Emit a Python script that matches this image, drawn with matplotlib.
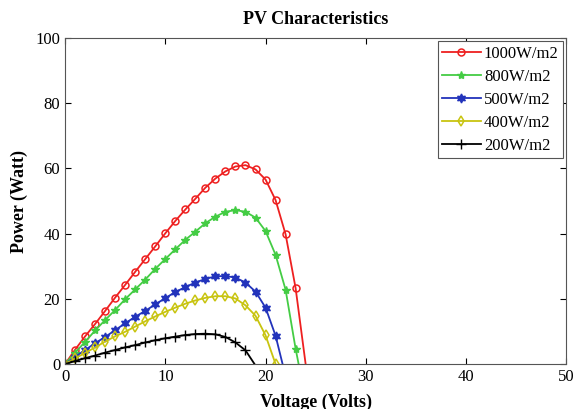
import numpy as np
import matplotlib
matplotlib.use("Agg")
import matplotlib.pyplot as plt

plt.rcParams['font.family'] = ['Liberation Serif', 'DejaVu Serif']

labels = ["1000W/m2", "800W/m2", "500W/m2", "400W/m2", "200W/m2"]

v_1000 = list(range(0, 24)) + [24.0]
p_1000 = [0, 4.4, 8.5, 12.3, 16.3, 20.4, 24.3, 28.3, 32.2, 36.1, 40.1, 43.9, 47.4,
          50.7, 54.1, 56.9, 59.1, 60.6, 61.0, 59.7, 56.6, 50.3, 39.8, 23.3, 0]

v_800 = list(range(0, 24)) + [23.3]
p_800 = [0, 3.5, 6.8, 10.3, 13.5, 16.6, 19.9, 22.9, 25.9, 29.2, 32.2, 35.2, 38.1,
         40.6, 43.2, 45.2, 46.7, 47.2, 46.7, 44.9, 40.8, 33.5, 22.8, 4.7, 0]

v_500 = list(range(0, 22)) + [21.7]
p_500 = [0, 2.2, 4.3, 6.4, 8.3, 10.4, 12.5, 14.5, 16.3, 18.3, 20.2, 22.1, 23.6,
         25.0, 26.1, 26.9, 27.0, 26.5, 25.0, 22.2, 17.3, 8.7, 0]

v_400 = list(range(0, 22))
p_400 = [0, 1.7, 3.4, 5.1, 6.9, 8.5, 9.9, 11.5, 13.1, 14.6, 16.0, 17.3, 18.5,
         19.5, 20.3, 20.8, 20.8, 20.1, 18.0, 14.8, 8.8, 0]

v_200 = list(range(0, 19)) + [18.9]
p_200 = [0, 0.9, 1.8, 2.6, 3.5, 4.3, 5.1, 5.8, 6.6, 7.3, 7.9, 8.4, 8.9,
         9.2, 9.3, 9.1, 8.3, 6.6, 4.2, 0]

fig = plt.figure(figsize=(5.76, 4.09), dpi=100)
ax = fig.add_axes([0.113, 0.110, 0.870, 0.797])

lw = 1.3
# last point of most curves is the open-circuit voltage, no marker there
ax.plot(v_1000, p_1000, color='#ee2020', marker='o', mfc='none', ms=5, mew=1.1, lw=lw,
        markevery=list(range(len(v_1000) - 1)), label=labels[0])
ax.plot(v_800, p_800, color='#44cc44', marker='*', ms=6, lw=lw,
        markevery=list(range(len(v_800) - 1)), label=labels[1])
ax.plot(v_500, p_500, color='#2233bb', marker=(6, 1, 0), ms=6.5, lw=lw,
        markevery=list(range(len(v_500) - 1)), label=labels[2])
ax.plot(v_400, p_400, color='#c8c410', marker='d', mfc='none', ms=5.5, mew=1.1, lw=lw,
        label=labels[3])
ax.plot(v_200, p_200, color='black', marker='+', ms=7, lw=lw,
        markevery=list(range(len(v_200) - 1)), label=labels[4])

ax.set_xlim(0, 50)
ax.set_ylim(0, 100)
ax.set_xticks(np.arange(0, 51, 10))
ax.set_yticks(np.arange(0, 101, 20))
ax.tick_params(direction='in', top=True, right=True, labelsize=12, length=4)
for s in ax.spines.values():
    s.set_color('#555555')

ax.set_title("PV Characteristics", fontsize=13, fontweight='bold', pad=10)
ax.set_xlabel("Voltage (Volts)", fontsize=13, fontweight='bold', labelpad=6)
ax.set_ylabel("Power (Watt)", fontsize=13, fontweight='bold', labelpad=5)

leg = ax.legend(loc='upper right', fontsize=12, fancybox=False, edgecolor='#555555',
                handlelength=2.3, handletextpad=0.2, borderpad=0.25, labelspacing=0.42,
                borderaxespad=0.2, framealpha=1)
leg.get_frame().set_linewidth(0.8)

fig.savefig("out.png", dpi=100)
